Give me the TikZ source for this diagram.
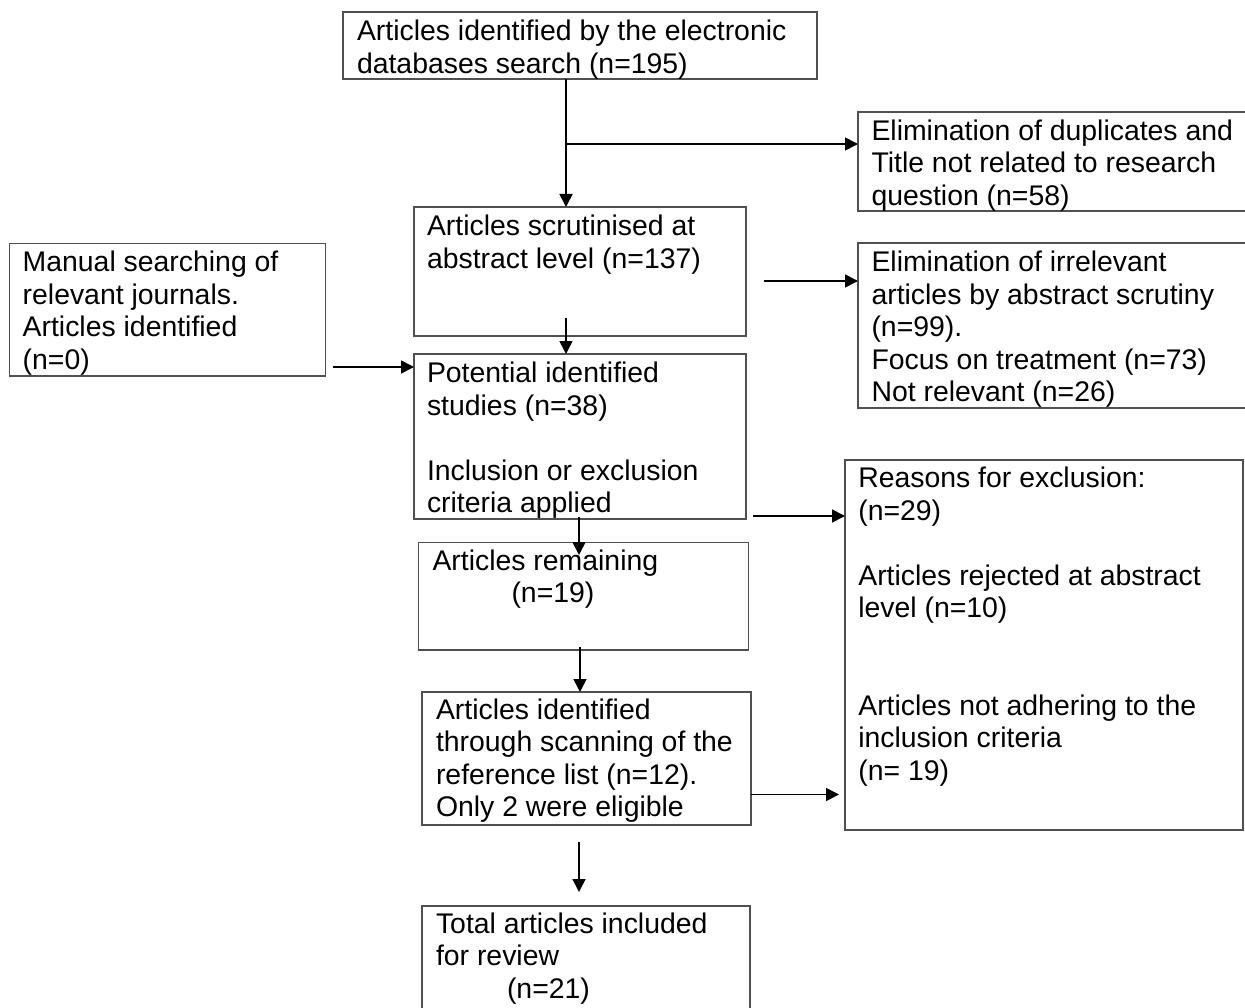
\documentclass[tikz,border=0pt]{standalone}
\usepackage{fontspec}
\setmainfont{Liberation Sans}
\usetikzlibrary{arrows.meta,calc}
\definecolor{boxgray}{HTML}{505050}
\begin{document}
\begin{tikzpicture}[x=1pt,y=-1pt,
  box/.style={draw=boxgray,line width=1.4pt,rectangle,inner sep=0pt,outer sep=0pt,anchor=north west},
  txt/.style={anchor=north west,inner sep=0pt,outer sep=0pt,align=left,font=\fontsize{28.4}{32.5}\selectfont},
  arr/.style={line width=1.6pt,-{Triangle[length=13pt,width=13pt]}}]
\useasboundingbox (0,0) rectangle (1245,1008);
\clip (0,0) rectangle (1245,1008);
% boxes
\node[box,minimum width=474pt,minimum height=67pt] (db) at (343,12) {};
\node[box,minimum width=400pt,minimum height=99pt] (dup) at (858,112) {};
\node[box,minimum width=332pt,minimum height=129pt] (abs) at (414,207) {};
\node[box,minimum width=400pt,minimum height=165pt] (irr) at (858,243) {};
\node[box,minimum width=316pt,minimum height=132.5pt] (man) at (9.5,243.5) {};
\node[box,minimum width=332pt,minimum height=165pt] (pot) at (414,354) {};
\node[box,minimum width=398pt,minimum height=370pt] (rea) at (845,460) {};
\node[box,minimum width=330pt,minimum height=107.5pt] (rem) at (418.5,542.5) {};
\node[box,minimum width=329pt,minimum height=133pt] (ref) at (422,692) {};
\node[box,minimum width=328pt,minimum height=120pt] (tot) at (422,906) {};
% texts
\node[txt] (dbt) at ([xshift=14pt,yshift=-6.25pt]db.north west) {\strut Articles identified by the electronic\\\strut databases search (n=195)};
\node[txt] (dupt) at ([xshift=13.5pt,yshift=-5.65pt]dup.north west) {\strut Elimination of duplicates and\\\strut Title not related to research\\\strut question (n=58)};
\node[txt] (abst) at ([xshift=13pt,yshift=-6pt]abs.north west) {\strut Articles scrutinised at\\\strut abstract level (n=137)};
\node[txt] (irrt) at ([xshift=13.5pt,yshift=-5.75pt]irr.north west) {\strut Elimination of irrelevant\\\strut articles by abstract scrutiny\\\strut (n=99).\\\strut Focus on treatment (n=73)\\\strut Not relevant (n=26)};
\node[txt] (mant) at ([xshift=13.2pt,yshift=-5.65pt]man.north west) {\strut Manual searching of\\\strut relevant journals.\\\strut Articles identified\\\strut (n=0)};
\node[txt] (pott) at ([xshift=13pt,yshift=-6pt]pot.north west) {\strut Potential identified\\\strut studies (n=38)\\\strut\\\strut Inclusion or exclusion\\\strut criteria applied};
\node[txt] (reat) at ([xshift=13.3pt,yshift=-5pt]rea.north west) {\strut Reasons for exclusion:\\\strut (n=29)\\\strut\\\strut Articles rejected at abstract\\\strut level (n=10)\\\strut\\\strut\\\strut Articles not adhering to the\\\strut inclusion criteria\\\strut (n= 19)};
\node[txt] (remt) at ([xshift=14pt,yshift=-5pt]rem.north west) {\strut Articles remaining\\\strut\hspace*{79pt}(n=19)};
\node[txt] (reft) at ([xshift=14pt,yshift=-4.5pt]ref.north west) {\strut Articles identified\\\strut through scanning of the\\\strut reference list (n=12).\\\strut Only 2 were eligible};
\node[txt] (tott) at ([xshift=14pt,yshift=-4.5pt]tot.north west) {\strut Total articles included\\\strut for review\\\strut\hspace*{71pt}(n=21)};
% connectors
\coordinate (j1) at (566,144);
\draw[arr] (db.south -| j1) -- (abs.north -| j1);
\draw[arr] (j1) -- (dup.west |- j1);
\coordinate (s2) at (764,281);
\draw[arr] (s2) -- (irr.west |- s2);
\coordinate (s3) at (333,367);
\draw[arr] (s3) -- (pot.west |- s3);
\coordinate (s4) at (566,318);
\draw[arr] (s4) -- (pot.north -| s4);
\coordinate (s5) at (579,517);
\coordinate (e5) at ($(s5 |- rem.north)+(0,12.5)$);
\draw[arr] (s5) -- (e5);
\coordinate (s6) at (753,516);
\draw[arr] (s6) -- (rea.west |- s6);
\coordinate (s7) at (580,647);
\draw[arr] (s7) -- (ref.north -| s7);
\coordinate (s8) at (751,794.5);
\coordinate (e8) at ($(rea.west |- s8)+(-6,0)$);
\draw[arr] (s8) -- (e8);
\coordinate (s9) at (579,842);
\coordinate (e9) at ($(tot.north -| s9)+(0,-14)$);
\draw[arr] (s9) -- (e9);
\end{tikzpicture}
\end{document}
